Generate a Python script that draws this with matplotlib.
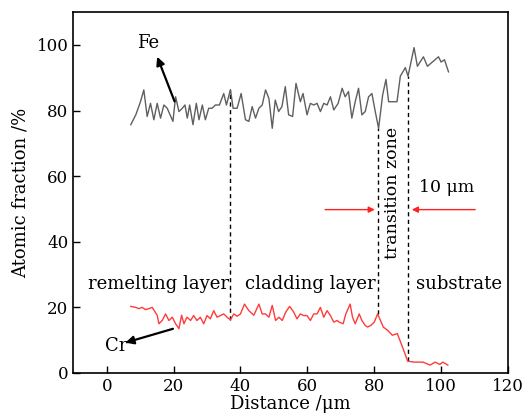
import matplotlib
matplotlib.use('Agg')
import matplotlib.pyplot as plt

plt.rcParams['font.family'] = ['DejaVu Serif']
plt.rcParams['mathtext.fontset'] = 'dejavuserif'

# Fe profile (distance in um, atomic fraction in %)
fe_x = [7.2, 8.7, 10.1, 11.1, 12.1, 13.1, 14.1, 15.1, 16.1, 17.1, 18.1, 19.8, 20.6, 21.6,
        22.6, 23.4, 24.1, 24.8, 25.8, 26.8, 27.6, 28.6, 29.5, 30.5, 31.5, 32.5, 33.7, 35.0,
        35.8, 37.0, 37.8, 39.0, 40.2, 41.5, 42.5, 43.5, 44.5, 45.5, 46.5, 47.5, 48.5, 49.5,
        50.4, 51.4, 52.4, 53.4, 54.4, 55.6, 56.6, 57.9, 58.7, 59.9, 60.9, 61.9, 62.9, 63.9,
        64.9, 65.9, 66.9, 67.9, 69.2, 70.4, 71.3, 72.3, 73.3, 74.3, 75.3, 76.3, 77.3, 78.3,
        79.3, 80.3, 81.3, 82.5, 83.5, 84.3, 86.8, 87.8, 89.3, 90.1, 91.9, 92.9, 94.7, 95.9,
        99.2, 100.0, 101.0, 102.2]
fe_y = [75.7, 78.7, 82.7, 86.3, 78.2, 82.2, 77.2, 82.2, 77.7, 81.7, 80.7, 76.7, 84.2, 79.7,
        80.7, 81.7, 77.7, 81.7, 75.7, 82.2, 77.2, 81.7, 77.2, 80.7, 80.7, 81.7, 81.7, 85.2,
        81.7, 86.4, 80.7, 80.7, 85.2, 77.2, 76.7, 81.2, 77.7, 80.7, 81.7, 86.3, 83.7, 74.6,
        83.2, 79.7, 81.2, 87.3, 78.7, 78.2, 88.3, 82.7, 85.2, 78.7, 82.2, 81.7, 82.2, 79.7,
        82.2, 81.7, 84.2, 80.2, 82.2, 86.8, 84.2, 85.8, 77.7, 82.7, 86.8, 78.7, 79.7, 84.2,
        85.2, 79.7, 74.6, 84.7, 89.5, 82.7, 82.7, 90.5, 93.1, 90.5, 99.2, 93.5, 96.4, 93.5,
        96.4, 94.8, 95.5, 91.8]

# Cr profile
cr_x = [7.2, 8.7, 9.6, 10.6, 11.6, 12.6, 13.6, 15.1, 15.6, 16.6, 17.6, 18.6, 19.6, 20.6,
        21.6, 22.4, 23.1, 24.0, 25.1, 26.0, 27.0, 28.0, 29.0, 30.0, 31.0, 32.0, 33.0, 34.0,
        35.0, 36.0, 37.0, 38.0, 39.0, 40.0, 41.2, 42.5, 44.0, 45.5, 46.5, 47.5, 48.5, 49.5,
        50.5, 51.5, 52.5, 53.5, 54.7, 55.9, 56.9, 57.9, 58.9, 59.9, 60.9, 61.9, 62.9, 63.9,
        64.9, 65.9, 66.9, 67.9, 68.9, 69.5, 70.7, 71.5, 72.8, 73.5, 74.3, 75.5, 76.3, 77.3,
        78.0, 79.0, 80.0, 81.0, 82.7, 84.0, 85.4, 86.9, 88.4, 90.0, 92.0, 94.6, 96.7, 98.2,
        99.6, 100.5, 102.0]
cr_y = [20.3, 20.0, 19.6, 20.0, 19.3, 19.6, 20.0, 17.6, 15.0, 16.0, 18.0, 16.0, 17.0, 15.0,
        13.5, 17.6, 15.0, 17.0, 16.0, 17.5, 16.0, 17.0, 15.0, 17.5, 16.5, 19.0, 17.0, 17.5,
        18.0, 17.0, 16.2, 18.0, 17.3, 18.0, 21.0, 19.0, 17.6, 21.0, 18.0, 18.0, 17.0, 20.6,
        16.0, 17.0, 16.0, 18.5, 20.3, 18.6, 16.5, 18.0, 17.5, 17.5, 16.0, 18.0, 18.0, 20.0,
        17.0, 19.0, 17.5, 15.5, 16.0, 15.5, 15.0, 18.0, 21.0, 17.0, 15.0, 18.0, 16.0, 14.5,
        14.0, 14.5, 15.5, 18.0, 14.0, 13.0, 11.5, 12.0, 8.0, 3.6, 3.3, 3.3, 2.4, 3.3,
        2.6, 3.3, 2.4]

# boundaries: (x, top, bottom)
bound_x = [37.0, 81.2, 90.1]
bound_top = [86.4, 74.6, 90.5]
bound_bot = [16.2, 18.0, 3.6]

fig = plt.figure(figsize=(5.27, 4.2), dpi=100)
ax = fig.add_axes([0.139, 0.112, 0.825, 0.859])

ax.plot(fe_x, fe_y, color='#5f5f5f', lw=1.0, zorder=3)
ax.plot(cr_x, cr_y, color='#ff3b3b', lw=1.0, zorder=3)

for bx, bt, bb in zip(bound_x, bound_top, bound_bot):
    ax.plot([bx, bx], [bb, bt], color='black', ls=(0, (3, 2.5)), lw=1.0, zorder=2)

# labels for curves
ax.text(12.5, 100.5, 'Fe', fontsize=13, ha='center', va='center')
ax.annotate('', xy=(14.8, 97.2), xytext=(20.6, 82.0),
            arrowprops=dict(arrowstyle='-|>', color='black', lw=1.6, mutation_scale=12))
ax.text(2.8, 8.3, 'Cr', fontsize=13, ha='center', va='center')
ax.annotate('', xy=(4.8, 9.0), xytext=(20.6, 13.7),
            arrowprops=dict(arrowstyle='-|>', color='black', lw=1.6, mutation_scale=12))

# region labels
ax.text(15.5, 27, 'remelting layer', fontsize=13, ha='center', va='center')
ax.text(61, 27, 'cladding layer', fontsize=13, ha='center', va='center')
ax.text(105.2, 27, 'substrate', fontsize=13, ha='center', va='center')
ax.text(85.6, 55, 'transition zone', fontsize=12.5, ha='center', va='center', rotation=90)
ax.text(93.5, 56.5, '10 μm', fontsize=12.5, ha='left', va='center')

# width arrows
ax.annotate('', xy=(81.0, 49.8), xytext=(64.5, 49.8),
            arrowprops=dict(arrowstyle='-|>', color='#ff2020', lw=1.0, mutation_scale=9))
ax.annotate('', xy=(90.4, 49.8), xytext=(111.0, 49.8),
            arrowprops=dict(arrowstyle='-|>', color='#ff2020', lw=1.0, mutation_scale=9))

ax.set_xlim(-10, 120)
ax.set_ylim(0, 110)
ax.set_xticks([0, 20, 40, 60, 80, 100, 120])
ax.set_yticks([0, 20, 40, 60, 80, 100])
ax.tick_params(direction='in', length=5, labelsize=12, width=1.0)
for s in ax.spines.values():
    s.set_linewidth(1.2)
ax.set_xlabel('Distance /μm', fontsize=13, labelpad=0)
ax.set_ylabel('Atomic fraction /%', fontsize=13, labelpad=5)

fig.savefig('out.png', dpi=100)
